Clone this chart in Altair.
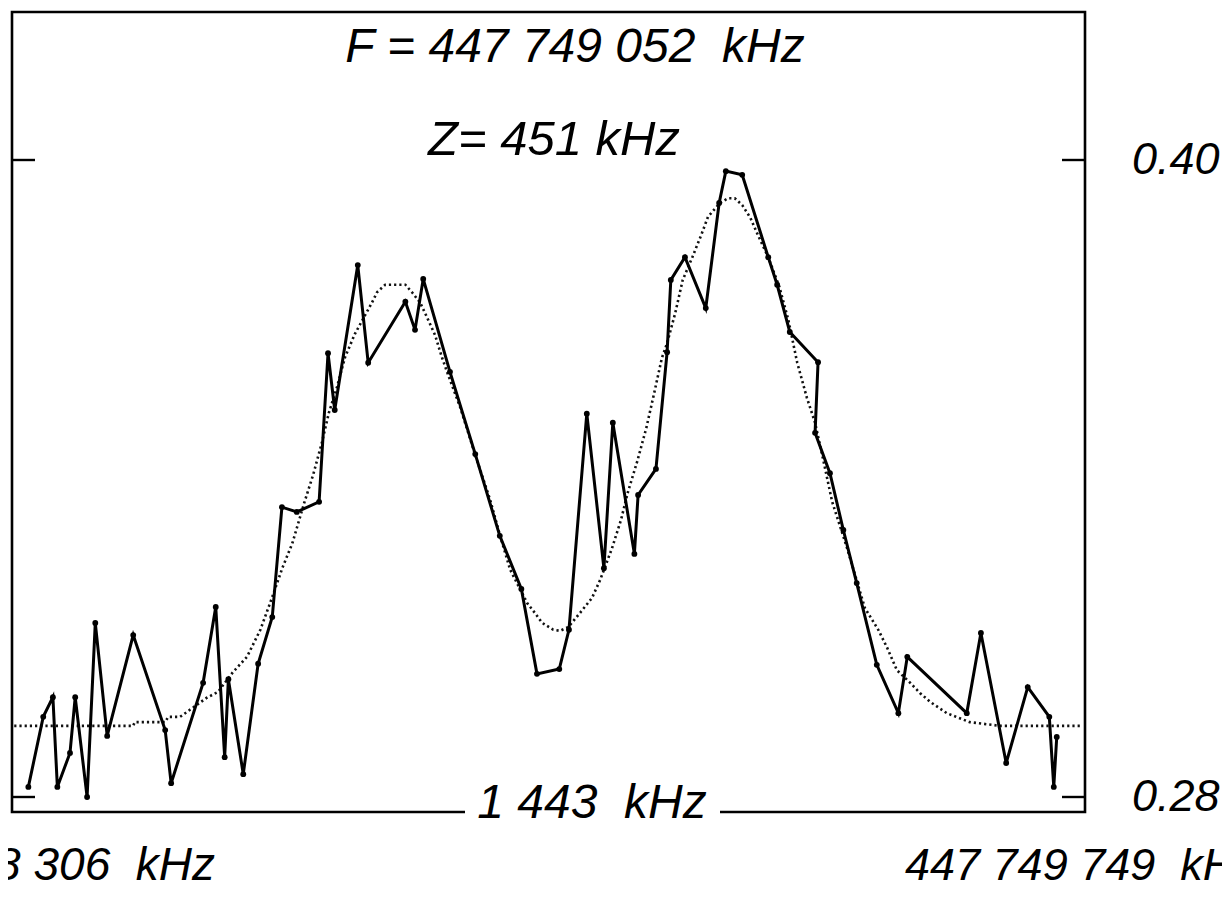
import altair as alt
import pandas as pd

# Frequency axis: offsets (kHz) from 447 748 306 kHz; span 1 443 kHz
BASE_KHZ = 447748306
SPAN_KHZ = 1443

# Measured signal (solid line with dots)
solid_f = [22, 42, 55, 61, 78, 85, 101, 112, 128, 163,
           206, 214, 257, 274, 286, 291, 311, 331, 350, 363,
           383, 413, 425, 434, 465, 479, 529, 542, 553, 589,
           623, 656, 685, 706, 736, 749, 773, 796, 808, 837,
           842, 866, 881, 886, 905, 933, 951, 960, 982, 1017,
           1029, 1046, 1084, 1080, 1100, 1118, 1136, 1163, 1192, 1204,
           1284, 1303, 1337, 1366, 1395, 1401, 1405]
solid_v = [0.2819, 0.2951, 0.2988, 0.2819, 0.2883, 0.2988, 0.2800, 0.3128, 0.2915, 0.3105,
           0.2926, 0.2826, 0.3015, 0.3158, 0.2875, 0.3022, 0.2843, 0.3051, 0.3139, 0.3346,
           0.3337, 0.3356, 0.3636, 0.3529, 0.3802, 0.3618, 0.3733, 0.3680, 0.3776, 0.3601,
           0.3446, 0.3292, 0.3192, 0.3032, 0.3041, 0.3115, 0.3522, 0.3231, 0.3505, 0.3258,
           0.3369, 0.3418, 0.3638, 0.3774, 0.3817, 0.3721, 0.3919, 0.3979, 0.3972, 0.3817,
           0.3765, 0.3676, 0.3619, 0.3486, 0.3410, 0.3303, 0.3203, 0.3049, 0.2958, 0.3064,
           0.2958, 0.3109, 0.2864, 0.3007, 0.2951, 0.2819, 0.2913]

# Fitted profile (dotted curve)
fit_f = [3, 163, 165, 206, 210, 226, 243, 262, 277, 297,
         316, 334, 347, 364, 377, 393, 405, 417, 426, 437,
         448, 461, 475, 484, 491, 502, 529, 539, 549, 558,
         569, 578, 585, 603, 623, 643, 656, 670, 693, 703,
         713, 728, 737, 748, 764, 780, 791, 807, 819, 828,
         841, 853, 863, 874, 881, 892, 902, 915, 927, 936,
         952, 963, 972, 982, 993, 1003, 1017, 1032, 1044, 1056,
         1069, 1080, 1091, 1103, 1123, 1147, 1165, 1177, 1190, 1208,
         1221, 1235, 1257, 1288, 1329, 1440]
fit_v = [0.2934, 0.2934, 0.2941, 0.2941, 0.2951, 0.2951, 0.2968, 0.2987, 0.2998, 0.3035,
         0.3064, 0.3115, 0.3165, 0.3233, 0.3278, 0.3354, 0.3407, 0.3469, 0.3523, 0.3572,
         0.3629, 0.3672, 0.3708, 0.3731, 0.3751, 0.3765, 0.3765, 0.3749, 0.3731, 0.3704,
         0.3670, 0.3629, 0.3601, 0.3533, 0.3444, 0.3360, 0.3294, 0.3228, 0.3165, 0.3147,
         0.3128, 0.3115, 0.3113, 0.3120, 0.3147, 0.3175, 0.3209, 0.3269, 0.3322, 0.3373,
         0.3433, 0.3495, 0.3557, 0.3627, 0.3655, 0.3712, 0.3774, 0.3817, 0.3859, 0.3893,
         0.3919, 0.3928, 0.3928, 0.3915, 0.3891, 0.3859, 0.3817, 0.3761, 0.3699, 0.3618,
         0.3552, 0.3505, 0.3435, 0.3356, 0.3269, 0.3156, 0.3115, 0.3081, 0.3039, 0.3015,
         0.2996, 0.2979, 0.2958, 0.2941, 0.2934, 0.2934]

tick_values = [0.28, 0.40]
tick_labels = ["0.28", "0.40"]

NB = "\u00a0"
title_f = f"F = 447{NB}749{NB}052{NB}{NB}kHz"
title_z = f"Z= 451{NB}kHz"
span_label = f"1{NB}443{NB}{NB}kHz"
left_label = f"447{NB}748{NB}306{NB}{NB}kHz"
right_label = f"447{NB}749{NB}749{NB}{NB}kHz"

solid = pd.DataFrame({"f": solid_f, "v": solid_v, "i": list(range(len(solid_f)))})
fit = pd.DataFrame({"f": fit_f, "v": fit_v})
ticks = pd.DataFrame({"v": tick_values, "lab": tick_labels})
one = pd.DataFrame({"a": [0]})

FONT = "Liberation Sans"
FS = 48

xs = alt.Scale(domain=[0, SPAN_KHZ], nice=False, zero=False)
ys = alt.Scale(domain=[0.277174, 0.42788], nice=False, zero=False)
X = alt.X("f:Q", scale=xs, axis=None)
Y = alt.Y("v:Q", scale=ys, axis=None)

fit_line = alt.Chart(fit).mark_line(
    color="#111", strokeWidth=2.6, strokeDash=[2.2, 3.0]
).encode(x=X, y=Y)

solid_line = alt.Chart(solid).mark_line(
    color="black", strokeWidth=3.0
).encode(x=X, y=Y, order="i:Q")

solid_pts = alt.Chart(solid).mark_circle(
    color="black", size=34, opacity=1
).encode(x=X, y=Y)

tick_y = alt.Y("v:Q", scale=ys, axis=None)
left_ticks = alt.Chart(ticks).mark_rule(color="black", strokeWidth=2.4).encode(
    y=tick_y, x=alt.value(0), x2=alt.value(23))
right_ticks = alt.Chart(ticks).mark_rule(color="black", strokeWidth=2.4).encode(
    y=tick_y, x=alt.value(1050), x2=alt.value(1073))
tick_text = alt.Chart(ticks).mark_text(
    align="left", baseline="middle", font=FONT, fontSize=45, fontStyle="italic", color="black"
).encode(y=tick_y, x=alt.value(1120), text="lab:N")

def label(txt, x, y, align="center", baseline="alphabetic", size=FS):
    return alt.Chart(one).mark_text(
        text=txt, align=align, baseline=baseline, font=FONT, fontSize=size,
        fontStyle="italic", color="black"
    ).encode(x=alt.value(x), y=alt.value(y))

mask = alt.Chart(one).mark_rect(color="white").encode(
    x=alt.value(453), x2=alt.value(708), y=alt.value(775), y2=alt.value(815))

chart = alt.layer(
    fit_line, solid_line, solid_pts,
    left_ticks, right_ticks, tick_text,
    mask,
    label(title_f, 563, 50),
    label(title_z, 542, 143, size=49),
    label(span_label, 580, 806),
    label(left_label, 203, 868, align="right", size=46),
    label(right_label, 893, 868, align="left", size=45),
).properties(
    width=1073, height=800,
    padding={"left": 4, "top": 4, "right": 137, "bottom": 88},
    autosize=alt.AutoSizeParams(type="none"),
    background="white",
).configure_view(stroke="black", strokeWidth=2.6)

chart.save("out.html", embed_options={"renderer": "svg", "actions": False})
